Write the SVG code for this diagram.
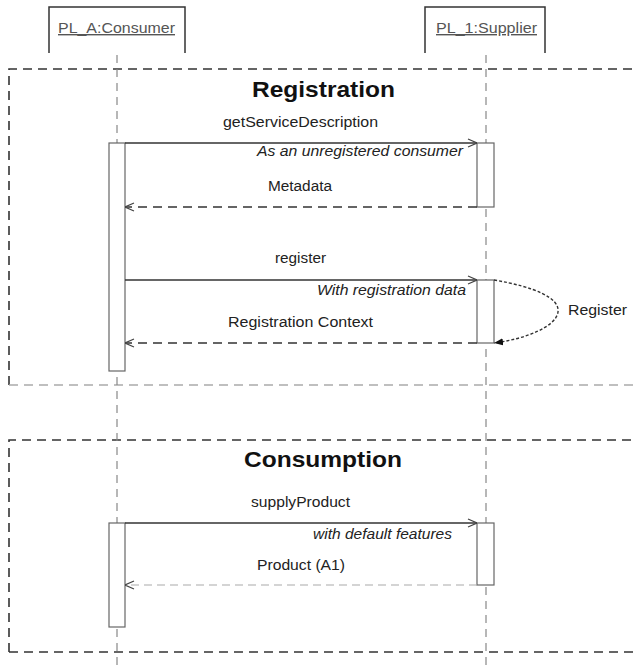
<svg xmlns="http://www.w3.org/2000/svg" width="636" height="670" viewBox="0 0 636 670">
<style>
text { font-family: "Liberation Sans", Arial, sans-serif; fill: #222; }
.lbl { font-size: 14px; }
.it { font-style: italic; }
.title { font-size: 22px; font-weight: bold; fill: #111; }
.hdr { font-size: 14px; fill: #555; text-decoration: underline; }
.box { fill: none; stroke: #333; stroke-width: 1.5; }
.life { stroke: #888; stroke-width: 1.2; stroke-dasharray: 8 6; fill: none; }
.frame { fill: none; stroke: #333; stroke-width: 1.6; stroke-dasharray: 9 6; }
.frame-light { fill: none; stroke: #aaa; stroke-width: 1.3; stroke-dasharray: 9 6; }
.act { fill: #fff; stroke: #666; stroke-width: 1.2; }
.msg { stroke: #333; stroke-width: 1.4; fill: none; }
.ret { stroke: #333; stroke-width: 1.6; stroke-dasharray: 9 6; fill: none; }
.ret-light { stroke: #aaa; stroke-width: 1.2; stroke-dasharray: 8 5; fill: none; }
.self { stroke: #333; stroke-width: 1.4; stroke-dasharray: 3 2; fill: none; }
</style>
<defs>
<marker id="open" viewBox="0 0 10 10" refX="10" refY="5" markerWidth="10" markerHeight="10" markerUnits="userSpaceOnUse" orient="auto">
<path d="M1,1 L10,5 L1,9" fill="none" stroke="#444" stroke-width="1.2"/>
</marker>
<marker id="filled" viewBox="0 0 10 10" refX="10" refY="5" markerWidth="9" markerHeight="9" markerUnits="userSpaceOnUse" orient="auto">
<path d="M0,1 L10,5 L0,9 Z" fill="#111"/>
</marker>
</defs>

<g id="frames">
<path class="frame" d="M9,385 L9,69 L640,69"/>
<path class="frame-light" d="M9,385 L640,385"/>
<path class="frame" d="M9,652 L9,440 L640,440 M9,652 L640,652"/>
<text class="title" x="252" y="97" textLength="143" lengthAdjust="spacingAndGlyphs">Registration</text>
<text class="title" x="244" y="467" textLength="158" lengthAdjust="spacingAndGlyphs">Consumption</text>
</g>

<g id="consumer">
<path class="box" d="M49,53 L49,7 L185,7 L185,53"/>
<text class="hdr" x="58" y="33" textLength="117" lengthAdjust="spacingAndGlyphs">PL_A:Consumer</text>
<line class="life" x1="117" y1="55" x2="117" y2="670"/>
<rect class="act" x="109" y="143" width="16" height="228"/>
<rect class="act" x="109" y="523" width="16" height="104"/>
</g>

<g id="supplier">
<path class="box" d="M425,53 L425,7 L545,7 L545,53"/>
<text class="hdr" x="436" y="33" textLength="101" lengthAdjust="spacingAndGlyphs">PL_1:Supplier</text>
<line class="life" x1="486" y1="55" x2="486" y2="670"/>
<rect class="act" x="477" y="143" width="17" height="64"/>
<rect class="act" x="477" y="280" width="17" height="63"/>
<rect class="act" x="477" y="523" width="17" height="62"/>
</g>

<g id="connectors">
<line class="msg" x1="125" y1="143" x2="477" y2="143" marker-end="url(#open)"/>
<line class="ret" x1="477" y1="207" x2="125" y2="207" marker-end="url(#open)"/>
<line class="msg" x1="125" y1="280" x2="477" y2="280" marker-end="url(#open)"/>
<path class="self" d="M494,280 C535,287 560,298 558,312 C556,327 525,339 494,343" marker-end="url(#filled)"/>
<line class="ret" x1="477" y1="343" x2="125" y2="343" marker-end="url(#open)"/>
<line class="msg" x1="125" y1="523" x2="477" y2="523" marker-end="url(#open)"/>
<line class="ret-light" x1="477" y1="585" x2="125" y2="585" marker-end="url(#open)"/>
</g>

<g id="labels">
<text class="lbl" x="223" y="127" textLength="155" lengthAdjust="spacingAndGlyphs">getServiceDescription</text>
<text class="lbl it" x="257" y="156" textLength="206" lengthAdjust="spacingAndGlyphs">As an unregistered consumer</text>
<text class="lbl" x="268" y="191" textLength="64" lengthAdjust="spacingAndGlyphs">Metadata</text>
<text class="lbl" x="275" y="263" textLength="51" lengthAdjust="spacingAndGlyphs">register</text>
<text class="lbl it" x="317" y="295" textLength="149" lengthAdjust="spacingAndGlyphs">With registration data</text>
<text class="lbl" x="228" y="327" textLength="145" lengthAdjust="spacingAndGlyphs">Registration Context</text>
<text class="lbl" x="568" y="315" textLength="59" lengthAdjust="spacingAndGlyphs">Register</text>
<text class="lbl" x="251" y="507" textLength="99" lengthAdjust="spacingAndGlyphs">supplyProduct</text>
<text class="lbl it" x="313" y="539" textLength="139" lengthAdjust="spacingAndGlyphs">with default features</text>
<text class="lbl" x="257" y="570" textLength="88" lengthAdjust="spacingAndGlyphs">Product (A1)</text>
</g>
</svg>
